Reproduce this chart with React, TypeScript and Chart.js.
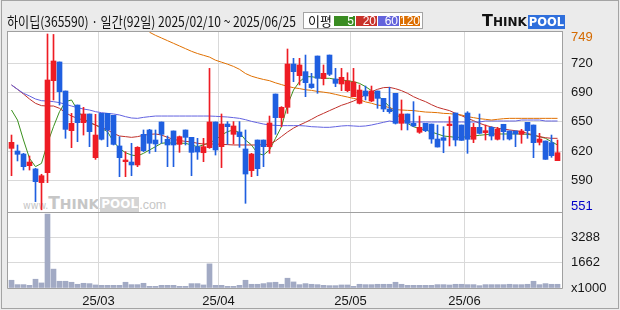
import React, { useEffect, useRef } from 'react';
import { Chart, registerables } from 'chart.js';
Chart.register(...registerables);

// ---- data ----
const OPEN = [620.2,617.2,613.8,600.7,597.0,581.6,592.8,696.4,717.5,684.8,640.1,669.0,649.1,658.9,609.7,659.6,659.6,657.4,622.9,605.2,604.8,601.5,636.0,640.9,629.6,649.9,630.4,639.8,624.7,640.9,632.6,622.1,615.3,621.0,649.9,622.1,647.6,636.0,638.6,619.5,595.1,629.6,629.6,622.1,681.4,654.8,666.4,715.2,702.1,706.6,692.7,724.2,698.7,725.3,698.3,692.7,685.2,678.4,670.9,684.8,673.5,684.8,676.5,664.5,682.2,648.4,658.9,648.4,638.3,648.4,647.6,630.7,632.2,645.8,660.0,646.5,660.0,630.4,643.9,637.9,643.9,630.4,647.3,639.8,639.8,636.0,649.5,646.5,627.0,628.5,626.6,606.3];
const HIGH = [635.2,624.0,614.6,611.6,597.7,591.0,749.0,748.5,717.5,684.8,659.6,669.0,666.4,658.9,658.5,659.6,659.6,657.4,633.4,616.5,625.9,622.1,640.9,641.6,640.9,649.9,634.1,639.8,634.1,640.9,632.6,631.5,631.5,710.3,649.9,658.9,650.3,650.3,650.3,640.9,614.6,629.6,629.6,656.6,681.4,667.2,732.1,721.6,721.6,725.3,704.7,724.2,714.1,725.3,710.3,710.3,705.4,710.3,691.6,690.4,690.4,684.8,676.5,689.0,682.2,674.7,658.9,672.8,656.6,648.4,647.6,646.5,644.6,655.9,660.0,646.5,661.5,648.4,658.9,646.5,644.6,643.9,647.3,639.8,639.8,641.6,649.5,646.5,637.1,628.5,635.2,629.6];
const LOW = [589.4,606.0,595.8,595.8,560.2,551.0,581.6,674.7,669.0,631.5,621.0,627.7,635.2,622.1,607.8,629.6,622.1,624.0,588.3,588.3,589.4,599.6,616.5,614.6,616.5,625.9,599.6,599.6,615.7,624.0,589.4,607.8,605.2,620.2,612.7,598.5,624.7,625.1,621.4,558.3,588.3,589.4,599.6,614.6,636.0,644.6,659.6,695.3,691.6,678.4,687.8,682.2,691.6,702.1,689.7,685.2,684.0,678.4,670.2,674.7,672.8,665.3,661.5,659.7,647.6,640.9,640.9,644.6,637.1,639.0,625.9,621.7,615.3,622.9,622.9,629.2,614.6,626.6,636.4,629.6,629.6,629.6,629.6,629.6,622.1,625.9,631.5,609.7,624.0,607.8,610.1,606.3];
const CLOSE = [627.0,613.5,599.6,604.8,582.7,589.4,697.2,718.6,684.0,641.6,648.4,649.1,658.9,639.0,635.2,630.4,640.9,624.7,609.7,607.1,601.5,621.4,617.6,625.9,625.1,636.0,624.0,624.0,633.4,632.6,615.7,616.1,622.1,649.9,618.4,647.6,644.6,645.4,633.4,591.3,613.8,597.3,622.1,648.8,654.8,666.4,715.2,706.6,714.1,694.2,688.6,699.1,704.7,703.6,693.4,700.2,696.1,694.9,685.9,679.2,684.8,676.5,664.5,661.5,648.4,658.9,648.4,645.4,643.9,640.1,630.7,621.7,629.2,647.6,629.6,629.2,630.4,643.9,637.1,640.1,634.1,641.6,639.0,630.7,636.4,639.8,640.1,626.6,630.7,607.8,612.0,615.3];
const VOLUME = [501,218,218,174,567,327,4780,1221,436,436,371,240,305,283,196,174,174,174,174,371,218,218,305,109,109,174,174,174,109,109,283,283,196,1560,174,174,109,109,174,501,240,240,283,349,371,240,632,392,218,283,240,218,174,153,153,196,196,109,240,218,218,240,240,240,371,240,174,174,174,174,174,218,218,196,240,240,218,218,153,218,218,218,218,240,218,218,240,436,218,283,240,240];
const MA5 = [663.4,652.1,629.6,609.0,599.6,603.3,625.9,644.6,661.5,672.8,674.7,663.4,654.0,649.1,646.5,642.8,639.0,627.7,620.2,615.3,612.7,611.6,614.6,618.4,622.1,625.9,626.6,625.9,625.9,625.9,624.0,622.1,624.0,626.6,629.6,635.2,639.0,640.9,637.9,629.6,624.0,614.6,612.7,618.4,631.5,644.6,669.0,685.9,695.3,700.9,700.9,699.8,699.1,699.1,697.9,697.2,696.4,695.3,693.4,689.7,685.2,680.0,674.0,667.0,659.0,654.0,648.4,644.6,642.4,640.9,638.6,636.4,634.1,633.4,632.6,632.6,633.4,634.1,634.9,635.6,636.4,636.4,636.4,636.4,636.4,636.4,636.0,634.9,633.4,631.5,627.7,624.0];
const MA20 = [691.6,686.7,681.4,675.8,670.9,668.3,667.9,667.9,665.3,660.4,656.6,654.0,652.1,649.5,646.5,643.9,640.9,637.1,634.1,633.4,632.6,633.4,634.9,636.0,636.4,635.2,632.6,630.4,628.9,628.1,627.4,625.9,625.1,625.1,625.1,624.7,624.4,624.0,624.0,624.0,624.0,624.0,624.4,624.7,628.5,633.5,638.6,643.0,646.5,649.5,652.9,656.6,659.6,662.7,665.7,668.7,670.9,673.5,676.5,681.0,684.0,686.7,688.6,688.9,687.4,685.2,682.2,678.4,675.4,672.8,669.4,666.4,664.5,662.7,659.6,657.0,654.0,651.4,648.4,646.1,644.3,642.8,642.0,640.9,640.1,639.0,637.1,635.2,633.4,632.2,631.5,631.5];
const MA60 = [691.6,686.7,682.2,679.2,675.8,673.9,673.5,672.8,671.7,669.8,667.9,666.0,664.5,663.4,661.5,660.4,659.6,658.9,657.8,655.9,654.4,654.0,655.1,655.9,656.6,656.6,656.6,656.6,656.6,656.6,656.6,656.6,656.6,656.6,656.3,655.9,655.5,654.8,654.0,652.5,650.6,649.1,647.6,646.5,646.1,645.8,645.8,645.8,645.8,645.4,644.6,644.3,643.9,643.9,644.6,645.4,645.8,645.4,645.0,645.4,646.5,648.0,649.5,651.0,649.9,649.9,649.9,649.9,649.9,649.9,649.9,649.9,649.9,649.9,649.9,649.9,649.9,649.9,649.9,651.0,651.0,651.0,651.0,651.0,651.0,652.1,652.1,652.1,652.1,651.0,651.0,651.0];
const MA120 = [null,null,null,null,null,null,null,null,null,null,null,null,null,null,null,null,null,null,null,null,null,null,null,751.0,747.5,744.5,741.5,738.5,735.5,732.5,729.5,727.0,725.0,723.0,719.5,717.3,715.0,712.5,709.2,704.5,701.5,699.5,697.8,696.4,694.0,692.0,690.0,688.5,687.5,686.2,685.5,684.3,683.5,682.5,681.0,679.5,678.0,676.5,675.0,672.5,671.0,669.0,668.0,666.0,663.8,663.4,663.0,662.7,661.9,661.1,660.8,660.4,659.6,659.3,658.5,657.8,655.9,654.8,653.6,652.9,652.1,652.9,653.6,654.0,654.0,654.0,654.0,654.0,654.0,654.0,654.0,654.0];

const MONTH_TICKS = [14.5, 34.5, 56.5, 75.5];
const MONTH_LABELS = ['25/03', '25/04', '25/05', '25/06'];
const PRICE_TICKS = [744.7, 716, 683, 650, 617, 584, 555.3];
const PRICE_LABELS = ['749', '720', '690', '650', '620', '590', '551'];
const VOL_TICKS = [0, 1662, 3288];
const VOL_LABELS = ['x1000', '1662', '3288'];

const UP = '#ee1c24';
const DOWN = '#1f5fe0';
const GRID = '#d9d9d9';
const FRAME = '#a0a0a0';
const NUM_FONT = "'Liberation Sans Narrow', 'Liberation Sans', Arial, sans-serif";
const X_MIN = -0.58333;
const X_MAX = 91.75;

const candleColor = (i: number) => (CLOSE[i] >= OPEN[i] ? UP : DOWN);

const pricePlugin = {
  id: 'priceFrame',
  afterDraw(chart: any) {
    const { ctx, chartArea: a } = chart;
    ctx.save();
    ctx.strokeStyle = FRAME;
    ctx.lineWidth = 1;
    ctx.strokeRect(a.left - 0.5, a.top - 0.5, a.right - a.left + 1, a.bottom - a.top + 1);
    ctx.restore();
  },
};
const volPlugin = {
  id: 'volFrame',
  afterDraw(chart: any) {
    const { ctx, chartArea: a } = chart;
    ctx.save();
    ctx.strokeStyle = FRAME;
    ctx.lineWidth = 1;
    ctx.beginPath();
    ctx.moveTo(a.left - 0.5, a.top);
    ctx.lineTo(a.left - 0.5, a.bottom + 0.5);
    ctx.lineTo(a.right + 0.5, a.bottom + 0.5);
    ctx.lineTo(a.right + 0.5, a.top);
    ctx.stroke();
    ctx.restore();
  },
};

function maLine(label: string, data: (number | null)[], color: string) {
  return {
    type: 'line' as const,
    label,
    data: data.map((v, i) => ({ x: i, y: v })),
    borderColor: color,
    borderWidth: 1,
    pointRadius: 0,
    tension: 0,
    spanGaps: false,
    order: 5,
  };
}

export default function App() {
  const priceRef = useRef<HTMLCanvasElement>(null);
  const volRef = useRef<HTMLCanvasElement>(null);

  useEffect(() => {
    const xCommon = {
      type: 'linear' as const,
      min: X_MIN,
      max: X_MAX,
      offset: false,
      border: { display: false },
      grid: { color: GRID, drawTicks: false, offset: false },
      afterBuildTicks: (s: any) => {
        s.ticks = MONTH_TICKS.map((v) => ({ value: v }));
      },
    };

    const price = new Chart(priceRef.current as HTMLCanvasElement, {
      type: 'bar',
      data: {
        datasets: [
          maLine('MA120', MA120, '#e07000'),
          maLine('MA60', MA60, '#6262e0'),
          maLine('MA20', MA20, '#c0302a'),
          maLine('MA5', MA5, '#3a901e'),
          {
            type: 'bar',
            label: 'wick',
            data: LOW.map((l, i) => ({ x: i, y: [l, HIGH[i]] })),
            backgroundColor: OPEN.map((_, i) => candleColor(i)),
            barThickness: 1,
            grouped: false,
            order: 2,
          } as any,
          {
            type: 'bar',
            label: 'body',
            data: OPEN.map((o, i) => ({ x: i, y: [o, CLOSE[i]] })),
            backgroundColor: OPEN.map((_, i) => candleColor(i)),
            barThickness: 5,
            minBarLength: 1,
            grouped: false,
            order: 1,
          } as any,
        ],
      },
      options: {
        animation: false,
        responsive: false,
        maintainAspectRatio: false,
        layout: { padding: { left: 8, top: 32, right: 0, bottom: 1 } },
        plugins: { legend: { display: false }, tooltip: { enabled: false } },
        scales: {
          x: {
            ...xCommon,
            ticks: { display: false },
            afterFit: (s: any) => {
              s.height = 0;
              s.paddingLeft = 0;
              s.paddingRight = 0;
            },
          } as any,
          y: {
            type: 'linear',
            position: 'right',
            min: 548.52,
            max: 751.25,
            border: { display: false },
            grid: {
              drawTicks: false,
              color: (c: any) => (c.index === 0 || c.index === PRICE_TICKS.length - 1 ? 'rgba(0,0,0,0)' : GRID),
            },
            ticks: {
              padding: 9,
              autoSkip: false,
              font: { family: NUM_FONT, size: 13 },
              color: (c: any) => (c.index === 0 ? '#d46a00' : c.index === PRICE_TICKS.length - 1 ? '#0000c8' : '#161616'),
              callback: (_v: any, i: number) => PRICE_LABELS[i],
            },
            afterBuildTicks: (s: any) => {
              s.ticks = PRICE_TICKS.map((v) => ({ value: v }));
            },
            afterFit: (s: any) => {
              s.width = 58;
              s.paddingTop = 0;
              s.paddingBottom = 0;
            },
          } as any,
        },
      },
      plugins: [pricePlugin],
    });

    const vol = new Chart(volRef.current as HTMLCanvasElement, {
      type: 'bar',
      data: {
        datasets: [
          {
            label: 'volume',
            data: VOLUME.map((v, i) => ({ x: i, y: v })),
            backgroundColor: '#a2aac4',
            barThickness: 5,
            grouped: false,
          } as any,
        ],
      },
      options: {
        animation: false,
        responsive: false,
        maintainAspectRatio: false,
        layout: { padding: { left: 8, top: 0, right: 0, bottom: 0 } },
        plugins: { legend: { display: false }, tooltip: { enabled: false } },
        scales: {
          x: {
            ...xCommon,
            ticks: {
              padding: 6,
              autoSkip: false,
              maxRotation: 0,
              minRotation: 0,
              color: '#161616',
              font: { family: "'Liberation Sans', Arial, sans-serif", size: 13 },
              callback: (_v: any, i: number) => MONTH_LABELS[i],
            },
            afterFit: (s: any) => {
              s.height = 22;
              s.paddingLeft = 0;
              s.paddingRight = 0;
            },
          } as any,
          y: {
            type: 'linear',
            position: 'right',
            min: 0,
            max: 4850,
            border: { display: false },
            grid: {
              drawTicks: false,
              color: (c: any) => (c.index === 0 ? 'rgba(0,0,0,0)' : GRID),
            },
            ticks: {
              padding: 9,
              autoSkip: false,
              font: { family: NUM_FONT, size: 13 },
              color: '#161616',
              callback: (_v: any, i: number) => VOL_LABELS[i],
            },
            afterBuildTicks: (s: any) => {
              s.ticks = VOL_TICKS.map((v) => ({ value: v }));
            },
            afterFit: (s: any) => {
              s.width = 58;
              s.paddingTop = 0;
              s.paddingBottom = 0;
            },
          } as any,
        },
      },
      plugins: [volPlugin],
    });

    return () => {
      price.destroy();
      vol.destroy();
    };
  }, []);

  const abs = (o: React.CSSProperties): React.CSSProperties => ({ position: 'absolute', ...o });
  const boxStyle = (left: number, width: number, bg: string): React.CSSProperties =>
    abs({
      left,
      top: 16,
      width,
      height: 10,
      background: bg,
      color: '#fff',
      font: `12px ${NUM_FONT}`,
      lineHeight: '11px',
      textAlign: 'right',
      paddingRight: 1,
      boxSizing: 'border-box',
      overflow: 'visible',
    });

  return (
    <div style={{ position: 'fixed', left: 0, top: 0, width: 620, height: 310, background: '#ebebeb', overflow: 'hidden' }}>
      <div style={abs({ left: 1, top: 0, width: 616, height: 307, border: '1px solid #a4a4a4' })} />
      <div style={abs({ left: 8, top: 32, width: 554, height: 256, background: '#fff' })} />

      {/* watermark */}
      <div style={abs({ left: 23, top: 193, height: 19, whiteSpace: 'nowrap', color: '#c6c6c6', display: 'flex', alignItems: 'flex-end' })}>
        <span style={{ font: "10.5px 'DejaVu Sans Condensed', 'DejaVu Sans', sans-serif", lineHeight: '13px' }}>www.</span>
        <span style={{ font: "bold 17px 'DejaVu Sans', sans-serif", lineHeight: '17px' }}>T</span>
        <span style={{ font: "bold 14px 'DejaVu Sans', sans-serif", lineHeight: '15px' }}>HINK</span>
        <span style={{ font: "bold 12px 'DejaVu Sans', sans-serif", lineHeight: '15px', color: '#fff', background: '#d4d4d4', padding: '0 1px', marginLeft: 1 }}>POOL</span>
        <span style={{ font: "12.5px 'Liberation Sans', sans-serif", lineHeight: '14px' }}>.com</span>
      </div>

      <canvas ref={priceRef} width={620} height={213} style={abs({ left: 0, top: 0, width: 620, height: 213 })} />
      <canvas ref={volRef} width={620} height={97} style={abs({ left: 0, top: 213, width: 620, height: 97 })} />

      {/* title */}
      <div style={abs({ left: 7, top: 12, font: "14px 'Noto Sans CJK KR', sans-serif", lineHeight: '18px', color: '#111', whiteSpace: 'nowrap', transform: 'scaleX(0.86)', transformOrigin: '0 0' })}>
        하이딥(365590) · 일간(92일) 2025/02/10 ~ 2025/06/25
      </div>

      {/* MA legend */}
      <div style={abs({ left: 303, top: 12, width: 118, height: 15, background: '#fff', border: '1px solid #a4a4a4' })} />
      <div style={abs({ left: 308, top: 11, font: "13px 'Noto Sans CJK KR', sans-serif", lineHeight: '19px', color: '#111' })}>이평</div>
      <div style={boxStyle(334, 21, '#3a8c22')}>5</div>
      <div style={boxStyle(356, 21, '#c8322a')}>20</div>
      <div style={boxStyle(378, 21, '#6464dc')}>60</div>
      <div style={boxStyle(400, 20, '#dc6e00')}>120</div>

      {/* logo */}
      <div style={abs({ left: 482, top: 13, height: 16, display: 'flex', alignItems: 'flex-end', whiteSpace: 'nowrap' })}>
        <span style={{ font: "bold 16px 'DejaVu Sans', sans-serif", lineHeight: '16px', color: '#111' }}>T</span>
        <span style={{ font: "bold 12px 'DejaVu Sans', sans-serif", lineHeight: '13px', color: '#111' }}>HINK</span>
        <span style={{ font: "bold 11.5px 'DejaVu Sans', sans-serif", lineHeight: '14px', color: '#fff', background: '#2f6fdc', padding: '0 1px', marginLeft: 1 }}>POOL</span>
      </div>
    </div>
  );
}
